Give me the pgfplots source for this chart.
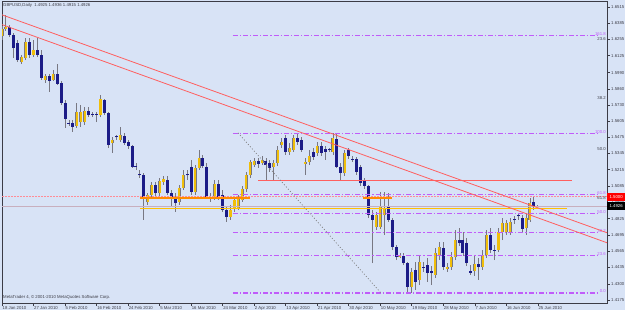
\documentclass[border=0pt]{standalone}
\usepackage{fontspec}
\setmainfont{Liberation Sans}
\usepackage{pgfplots}
\usepackage{pgfplotstable}
\pgfplotsset{compat=1.18}
\definecolor{bg}{RGB}{216,227,246}
\definecolor{gold}{RGB}{240,190,10}
\definecolor{navy}{RGB}{28,28,135}
\definecolor{wick}{RGB}{120,120,130}
\definecolor{tl}{RGB}{255,95,95}
\definecolor{fib}{RGB}{192,92,250}
\definecolor{org}{RGB}{255,140,0}
\definecolor{yel}{RGB}{255,192,0}
\definecolor{frm}{RGB}{60,60,70}
\definecolor{pinkl}{RGB}{255,140,150}
\definecolor{bidl}{RGB}{200,175,190}

\pgfplotstableread{
i o h l c
0 1.6283 1.6363 1.6251 1.6339
1 1.6339 1.6451 1.6323 1.6355
5 1.6075 1.6131 1.6059 1.6115
6 1.6107 1.6267 1.6091 1.6235
8 1.6131 1.6251 1.6115 1.6171
11 1.5932 1.5980 1.5908 1.5964
13 1.5932 1.6012 1.5924 1.5980
19 1.5565 1.5748 1.5549 1.5676
20 1.5596 1.5732 1.5557 1.5676
21 1.5596 1.5716 1.5573 1.5684
25 1.5652 1.5812 1.5636 1.5780
28 1.5429 1.5477 1.5349 1.5453
30 1.5453 1.5557 1.5437 1.5493
37 1.4958 1.5030 1.4934 1.5014
38 1.5014 1.5118 1.4998 1.5094
40 1.5030 1.5150 1.5006 1.5126
41 1.5118 1.5166 1.5094 1.5142
45 1.4958 1.5094 1.4934 1.5070
46 1.5070 1.5214 1.5054 1.5174
49 1.5038 1.5253 1.5014 1.5230
50 1.5230 1.5373 1.5214 1.5309
54 1.4998 1.5134 1.4974 1.5102
58 1.4838 1.4934 1.4814 1.4894
59 1.4910 1.4998 1.4878 1.4974
60 1.4910 1.5014 1.4894 1.4990
61 1.4974 1.5086 1.4958 1.5062
62 1.5062 1.5198 1.5038 1.5174
63 1.5174 1.5293 1.5150 1.5277
64 1.5253 1.5309 1.5238 1.5285
66 1.5269 1.5325 1.5253 1.5293
69 1.5238 1.5293 1.5134 1.5269
70 1.5269 1.5405 1.5245 1.5373
71 1.5413 1.5469 1.5389 1.5437
73 1.5357 1.5429 1.5333 1.5389
74 1.5373 1.5493 1.5357 1.5469
77 1.5261 1.5309 1.5174 1.5277
78 1.5277 1.5373 1.5253 1.5325
80 1.5349 1.5437 1.5325 1.5405
84 1.5357 1.5509 1.5333 1.5469
87 1.5190 1.5373 1.5166 1.5349
95 1.4759 1.4878 1.4735 1.4854
96 1.4759 1.5038 1.4743 1.4918
97 1.4854 1.5038 1.4695 1.4910
101 1.4518 1.4550 1.4510 1.4534
104 1.4279 1.4430 1.4231 1.4399
106 1.4335 1.4534 1.4295 1.4478
110 1.4375 1.4590 1.4351 1.4550
111 1.4534 1.4638 1.4494 1.4598
113 1.4422 1.4470 1.4399 1.4438
114 1.4438 1.4558 1.4415 1.4518
115 1.4518 1.4735 1.4494 1.4654
120 1.4407 1.4534 1.4367 1.4462
122 1.4438 1.4574 1.4415 1.4534
123 1.4534 1.4735 1.4510 1.4695
126 1.4574 1.4751 1.4558 1.4719
127 1.4719 1.4830 1.4654 1.4790
128 1.4719 1.4814 1.4695 1.4790
129 1.4719 1.4830 1.4695 1.4798
133 1.4751 1.4862 1.4695 1.4830
134 1.4814 1.4990 1.4798 1.4950
136 1.4925 1.4936 1.4915 1.4926
}\bull

\pgfplotstableread{
i o h l c
2 1.6355 1.6371 1.6275 1.6291
3 1.6291 1.6307 1.6107 1.6187
4 1.6227 1.6251 1.6075 1.6091
7 1.6235 1.6267 1.6107 1.6131
9 1.6171 1.6267 1.6115 1.6131
10 1.6131 1.6171 1.5932 1.5948
12 1.5964 1.5980 1.5836 1.5924
14 1.5980 1.6059 1.5892 1.5900
15 1.5908 1.5924 1.5732 1.5748
16 1.5748 1.5772 1.5549 1.5620
17 1.5592 1.5612 1.5565 1.5584
18 1.5588 1.5612 1.5517 1.5557
22 1.5684 1.5716 1.5636 1.5652
23 1.5664 1.5676 1.5636 1.5656
24 1.5662 1.5676 1.5596 1.5654
26 1.5772 1.5780 1.5652 1.5668
27 1.5668 1.5676 1.5389 1.5413
29 1.5481 1.5493 1.5453 1.5473
31 1.5485 1.5509 1.5413 1.5429
32 1.5437 1.5453 1.5381 1.5405
33 1.5405 1.5413 1.5230 1.5238
34 1.5242 1.5269 1.5214 1.5234
35 1.5178 1.5214 1.5150 1.5170
36 1.5174 1.5190 1.4814 1.4990
39 1.5094 1.5118 1.5006 1.5030
42 1.5134 1.5166 1.5014 1.5030
43 1.5030 1.5054 1.4918 1.4998
44 1.4998 1.5030 1.4878 1.4950
47 1.5178 1.5214 1.5134 1.5170
48 1.5238 1.5293 1.5014 1.5038
51 1.5309 1.5333 1.5230 1.5245
52 1.5238 1.5269 1.4982 1.4998
53 1.4996 1.5030 1.4958 1.4988
55 1.5102 1.5134 1.4974 1.4998
56 1.5014 1.5054 1.4878 1.4894
57 1.4894 1.4918 1.4798 1.4838
65 1.5285 1.5309 1.5230 1.5261
67 1.5285 1.5309 1.5134 1.5253
68 1.5269 1.5293 1.5198 1.5230
72 1.5469 1.5493 1.5333 1.5357
75 1.5469 1.5509 1.5413 1.5437
76 1.5453 1.5477 1.5357 1.5373
79 1.5357 1.5389 1.5293 1.5317
81 1.5405 1.5437 1.5325 1.5349
82 1.5381 1.5405 1.5293 1.5357
83 1.5377 1.5389 1.5357 1.5369
85 1.5461 1.5509 1.5230 1.5238
86 1.5238 1.5269 1.5134 1.5190
88 1.5373 1.5389 1.5301 1.5325
89 1.5304 1.5325 1.5277 1.5296
90 1.5301 1.5317 1.5174 1.5198
91 1.5238 1.5253 1.5086 1.5110
92 1.5134 1.5150 1.5062 1.5086
93 1.5086 1.5094 1.4830 1.4854
94 1.4854 1.4894 1.4470 1.4814
98 1.4918 1.5030 1.4798 1.4814
99 1.4814 1.4830 1.4574 1.4598
100 1.4598 1.4614 1.4494 1.4518
102 1.4526 1.4550 1.4454 1.4470
103 1.4470 1.4478 1.4239 1.4279
105 1.4415 1.4478 1.4255 1.4319
107 1.4442 1.4478 1.4399 1.4434
108 1.4454 1.4510 1.4319 1.4391
109 1.4407 1.4446 1.4295 1.4391
112 1.4590 1.4638 1.4415 1.4438
116 1.4654 1.4751 1.4606 1.4630
117 1.4654 1.4719 1.4526 1.4550
118 1.4630 1.4670 1.4446 1.4470
119 1.4407 1.4454 1.4375 1.4391
121 1.4462 1.4510 1.4335 1.4438
124 1.4695 1.4751 1.4550 1.4574
125 1.4578 1.4614 1.4494 1.4570
130 1.4818 1.4846 1.4782 1.4810
131 1.4850 1.4870 1.4814 1.4842
132 1.4830 1.4854 1.4711 1.4743
135 1.4958 1.4998 1.4894 1.4918
}\bear

\begin{document}
\begin{tikzpicture}[font=\fontsize{4.3}{5}\selectfont]
\useasboundingbox (0,0) rectangle (625bp,310bp);
\fill[bg] (0,0) rectangle (625bp,310bp);
\begin{axis}[
  at={(2bp,7bp)}, anchor=south west, scale only axis,
  width=605bp, height=302bp,
  xmin=0, xmax=153.55, ymin=1.4151, ymax=1.65625,
  axis line style={frm, line width=0.8bp},
  tick style={frm, line width=0.6bp},
  major tick length=3bp, tick align=outside,
  xtick pos=bottom, ytick pos=right, yticklabel pos=right,
  xtick={0,8,...,136},
  xticklabels={18 Jan 2010,27 Jan 2010,5 Feb 2010,16 Feb 2010,24 Feb 2010,5 Mar 2010,16 Mar 2010,24 Mar 2010,2 Apr 2010,13 Apr 2010,21 Apr 2010,30 Apr 2010,10 May 2010,19 May 2010,28 May 2010,7 Jun 2010,16 Jun 2010,25 Jun 2010},
  ytick={1.4175,1.4300,1.4435,1.4565,1.4695,1.4825,1.4955,1.5085,1.5215,1.5345,1.5475,1.5605,1.5730,1.5860,1.5990,1.6125,1.6255,1.6385,1.6515},
  yticklabels={1.4175,1.4300,1.4435,1.4565,1.4695,1.4825,1.4955,1.5085,1.5215,1.5345,1.5475,1.5605,1.5730,1.5860,1.5990,1.6125,1.6255,1.6385,1.6515},
  xticklabel style={anchor=north west, inner sep=0.5bp, text=frm},
  yticklabel style={anchor=west, inner sep=1bp, text=frm},
  /pgf/number format/assume math mode=true,
  scaled y ticks=false,
]
% wicks
\addplot[forget plot, draw=none, mark=none, error bars/.cd, y dir=plus, y explicit, error mark=none,
  error bar style={draw=wick, line width=0.9bp}]
  table[x=i, y=l, y error expr=\thisrow{h}-\thisrow{l}] {\bull};
\addplot[forget plot, draw=none, mark=none, error bars/.cd, y dir=plus, y explicit, error mark=none,
  error bar style={draw=wick, line width=0.9bp}]
  table[x=i, y=l, y error expr=\thisrow{h}-\thisrow{l}] {\bear};
% bodies
\addplot[forget plot, draw=none, mark=none, error bars/.cd, y dir=plus, y explicit, error mark=none,
  error bar style={draw=wick, line width=3bp}]
  table[x=i, y=o, y error expr=\thisrow{c}-\thisrow{o}] {\bull};
\addplot[forget plot, draw=none, mark=none, error bars/.cd, y dir=plus, y explicit, error mark=none,
  error bar style={draw=gold, line width=2.1bp}]
  table[x=i, y=o, y error expr=\thisrow{c}-\thisrow{o}] {\bull};
\addplot[forget plot, draw=none, mark=none, error bars/.cd, y dir=plus, y explicit, error mark=none,
  error bar style={draw=navy, line width=3bp}]
  table[x=i, y=c, y error expr=\thisrow{o}-\thisrow{c}] {\bear};
% horizontal reference lines
\addplot[pinkl, line width=0.7bp, dash pattern=on 1.5bp off 1.5bp] coordinates {(0,1.5000) (153.55,1.5000)};
\addplot[bidl, line width=0.5bp] coordinates {(0,1.4926) (153.55,1.4926)};
\addplot[org, line width=2.5bp] coordinates {(35,1.4990) (63,1.4990)};
\addplot[org, line width=2.5bp] coordinates {(91.6,1.4990) (99,1.4990)};
\addplot[yel, line width=1.6bp] coordinates {(35,1.4907) (143.4,1.4907)};
\addplot[tl, line width=0.8bp] coordinates {(65,1.5126) (144.7,1.5126)};
% fibonacci levels
\foreach \lv/\lb in {1.6286/161.8, 1.5501/100.0, 1.5016/61.8, 1.4866/50.0, 1.4716/38.2, 1.4531/23.6, 1.4231/0.0}{
  \edef\tmp{\noexpand\addplot[fib, line width=1.1bp, dash pattern=on 5bp off 2bp on 1.2bp off 2bp] coordinates {(58.6,\lv) (151.3,\lv)};}\tmp
  \edef\tmp{\noexpand\node[anchor=east, text=fib, inner sep=0pt, yshift=1.5bp] at (axis cs:153.3,\lv) {\lb};}\tmp
}
\node[anchor=east, text=frm, inner sep=0pt] at (axis cs:153.3,1.6259) {23.6};
\node[anchor=east, text=frm, inner sep=0pt] at (axis cs:153.3,1.5788) {38.2};
\node[anchor=east, text=frm, inner sep=0pt] at (axis cs:153.3,1.5381) {50.0};
\node[anchor=east, text=frm, inner sep=0pt] at (axis cs:153.3,1.4990) {61.8};
\addplot[gray, line width=0.7bp, dash pattern=on 1bp off 2bp] coordinates {(59.9,1.5509) (96.2,1.4231)};
% trend lines
\addplot[tl, line width=0.8bp] coordinates {(0,1.6452) (153.55,1.4712)};
\addplot[tl, line width=0.8bp] coordinates {(0,1.6374) (153.55,1.4632)};
\coordinate (pa) at (axis cs:153.55,1.5000);
\coordinate (pb) at (axis cs:153.55,1.4926);
\end{axis}
\node[anchor=west, fill=red, text=white, inner sep=0.5bp, minimum height=8bp, minimum width=18bp] at (pa) {1.5000};
\node[anchor=west, fill=black, text=white, inner sep=0.5bp, minimum height=8bp, minimum width=18bp] at (pb) {1.4926};
\node[anchor=west, text=frm, inner sep=0pt] at (3bp,305bp) {GBPUSD,Daily\ \ 1.4925 1.4936 1.4915 1.4926};
\node[anchor=west, text=frm, inner sep=0pt] at (3bp,13bp) {MetaTrader 4, \textcopyright{} 2001-2010 MetaQuotes Software Corp.};
\end{tikzpicture}
\end{document}
